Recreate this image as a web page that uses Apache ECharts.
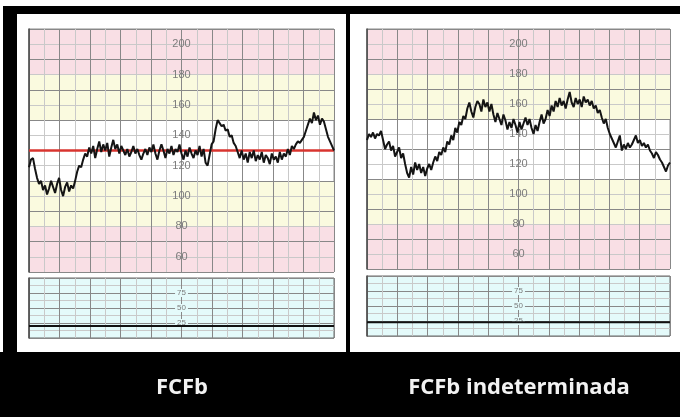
<!DOCTYPE html>
<html>
<head>
<meta charset="utf-8">
<script src="https://cdn.jsdelivr.net/npm/echarts@6/dist/echarts.min.js"></script>
<style>
  html, body { margin: 0; padding: 0; background: #000; }
  #chart { width: 680px; height: 417px; }
</style>
</head>
<body>
<div id="chart"></div>
<script>
// Fetal heart rate (bpm), one sample every ~4 s over a 10-minute strip
const fhrBaselineTrace = [
  119,124,125,118,112,108,110,104,107,101,105,110,106,102,108,112,104,100,106,109,
  103,107,105,110,116,120,119,124,128,126,132,128,133,125,131,136,129,134,130,135,
  126,132,137,131,134,128,133,130,127,131,126,129,133,128,131,127,124,128,131,127,
  132,129,134,128,124,130,134,130,125,131,128,133,127,131,129,134,128,124,130,126,
  132,128,125,130,127,133,126,131,122,120,127,134,136,144,150,148,146,147,143,144,
  139,140,135,133,129,125,130,124,128,122,129,125,130,123,127,124,129,122,127,125,
  121,128,124,126,122,129,124,128,126,131,127,133,131,134,136,135,137,139,143,147,
  151,148,155,150,153,147,151,149,144,139,136,133,130
];
const fhrIndeterminateTrace = [
  136,140,138,141,137,140,139,142,136,130,133,135,129,132,125,128,131,124,127,120,
  114,111,118,113,121,116,120,114,118,112,117,120,116,121,125,122,128,126,131,128,
  135,133,139,136,144,141,148,146,152,150,157,161,155,151,158,162,160,155,163,158,
  161,155,160,153,148,154,150,146,153,149,143,148,144,150,146,141,148,143,147,151,
  146,150,144,140,146,142,148,153,147,150,156,152,159,155,162,158,164,159,162,157,
  163,168,161,158,164,160,163,158,165,161,163,159,162,157,159,154,156,151,147,150,
  144,140,137,134,131,135,139,129,133,130,134,131,133,136,139,134,136,132,134,131,
  133,129,127,124,128,126,123,121,118,115,119,121
];
// Baseline marked on the first strip (bpm)
const baselineBpm = 130;
// Uterine activity (mmHg), sampled once per minute
const tocoLeft = [20, 20, 20, 20, 20, 20, 20, 20, 20, 20, 20];
const tocoRight = [23, 23, 23, 23, 23, 23, 23, 23, 23, 23, 23];
// Shaded FHR zones: [from bpm, to bpm, zone]
const fhrZones = [
  [50, 80, 'alert'], [80, 110, 'caution'], [150, 180, 'caution'], [180, 210, 'alert']
];
const fhrTickLabels = [60, 80, 100, 120, 140, 160, 180, 200];
const tocoTickLabels = [25, 50, 75];
const stripTitles = ['FCFb', 'FCFb indeterminada'];
const stripSeconds = 600;

const zoneColor = { alert: '#f9dfe5', caution: '#fafadf' };
const GRID_DARK = '#888888';
const GRID_LIGHT = '#c9c9c9';

function timed(values) {
  const step = stripSeconds / (values.length - 1);
  return values.map((v, i) => [i * step, v]);
}

const panels = [
  { fhr: { left: 29, top: 29, width: 305, height: 243 }, toco: { left: 29, top: 278, width: 305, height: 60 }, titleX: 182 },
  { fhr: { left: 367, top: 29, width: 303, height: 240 }, toco: { left: 367, top: 276, width: 303, height: 60 }, titleX: 519 }
];

const grids = [], xAxes = [], yAxes = [];
panels.forEach(p => {
  grids.push(Object.assign({ show: true, backgroundColor: '#ffffff', borderColor: '#8a8a8a', borderWidth: 1 }, p.fhr));
  grids.push(Object.assign({ show: true, backgroundColor: '#e4fafa', borderColor: '#6a6a6a', borderWidth: 1 }, p.toco));
});

grids.forEach((g, gi) => {
  xAxes.push({
    type: 'value', gridIndex: gi, min: 0, max: stripSeconds, interval: 30, z: 3,
    axisLabel: { show: false }, axisTick: { show: false }, axisLine: { show: false },
    splitLine: { show: true, lineStyle: { color: [GRID_DARK, GRID_LIGHT], width: 1 } }
  });
  const isToco = gi % 2 === 1;
  const labels = isToco ? tocoTickLabels : fhrTickLabels;
  const labelBg = isToco ? '#e4fafa' : 'transparent';
  yAxes.push({
    type: 'value', gridIndex: gi, z: 3,
    min: isToco ? 0 : 50, max: isToco ? 100 : 210, interval: isToco ? 12.5 : 10,
    axisTick: { show: false },
    axisLine: { show: true, lineStyle: { color: '#4a4a4a', width: 1.5 } },
    splitLine: { show: true, lineStyle: { color: [GRID_DARK, GRID_LIGHT], width: 1 } },
    axisLabel: {
      inside: true, margin: (gi < 2 ? 305 : 303) / 2, align: 'center',
      color: '#7c7c7c', fontFamily: 'Liberation Sans, Arial, sans-serif',
      fontSize: isToco ? 8 : 11, backgroundColor: labelBg, padding: [0, 2],
      showMinLabel: true, showMaxLabel: true,
      formatter: v => labels.includes(v) ? String(v) : ''
    }
  });
});

const series = [];
const traces = [fhrBaselineTrace, fhrIndeterminateTrace];
const tocos = [tocoLeft, tocoRight];
traces.forEach((trace, pi) => {
  const fhrIdx = pi * 2, tocoIdx = pi * 2 + 1;
  // zone shading behind the grid
  series.push({
    type: 'line', xAxisIndex: fhrIdx, yAxisIndex: fhrIdx, data: [], z: 1, silent: true,
    markArea: {
      silent: true,
      data: fhrZones.map(([a, b, kind]) => [
        { yAxis: a, itemStyle: { color: zoneColor[kind] } }, { yAxis: b }
      ])
    }
  });
  const s = {
    type: 'line', xAxisIndex: fhrIdx, yAxisIndex: fhrIdx, z: 5,
    data: timed(trace), showSymbol: false, symbol: 'none',
    lineStyle: { color: '#141414', width: 2 }, animation: false
  };
  if (pi === 0) {
    s.markLine = {
      silent: true, symbol: 'none', label: { show: false },
      lineStyle: { color: '#d8342f', width: 2.5, type: 'solid' },
      data: [{ yAxis: baselineBpm }]
    };
  }
  series.push(s);
  series.push({
    type: 'line', xAxisIndex: tocoIdx, yAxisIndex: tocoIdx, z: 5,
    data: timed(tocos[pi]), showSymbol: false, symbol: 'none',
    lineStyle: { color: '#111', width: 2 }, animation: false
  });
});

const titleText = stripTitles.map((t, i) => ({
  type: 'text', x: panels[i].titleX, y: 388, z: 10,
  style: {
    text: t, fill: '#f2f2f2', align: 'center', verticalAlign: 'middle',
    font: 'bold 22px "Open Sans", sans-serif'
  }
}));

const chart = echarts.init(document.getElementById('chart'), null, { renderer: 'canvas' });
chart.setOption({
  backgroundColor: '#000000',
  animation: false,
  graphic: [
    { type: 'rect', shape: { x: 0, y: 0, width: 680, height: 6 }, style: { fill: '#ffffff' }, z: -10 },
    { type: 'rect', shape: { x: 0, y: 0, width: 3, height: 352 }, style: { fill: '#ffffff' }, z: -10 },
    { type: 'rect', shape: { x: 17, y: 14, width: 329, height: 338 }, style: { fill: '#ffffff' }, z: -10 },
    { type: 'rect', shape: { x: 350, y: 14, width: 330, height: 338 }, style: { fill: '#ffffff' }, z: -10 }
  ].concat(titleText),
  grid: grids,
  xAxis: xAxes,
  yAxis: yAxes,
  series: series
});
</script>
</body>
</html>
